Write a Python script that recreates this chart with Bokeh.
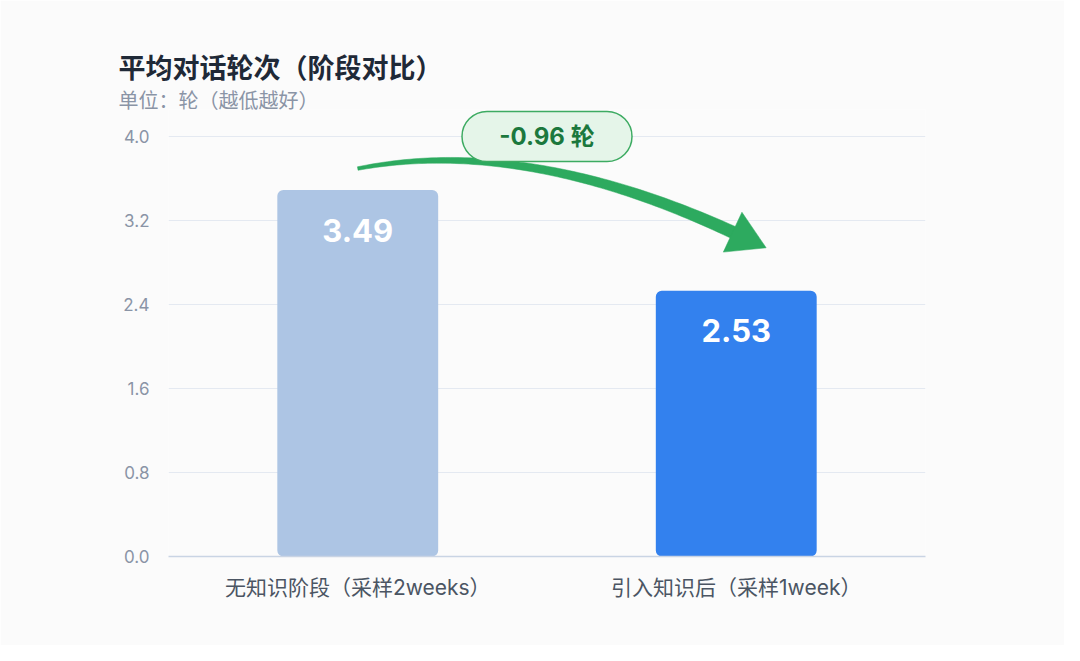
import numpy as np
from bokeh.plotting import figure
from bokeh.models import Range1d, FactorRange, FixedTicker, Title, NumeralTickFormatter
from bokeh.core.properties import value
from bokeh.embed import file_html
from bokeh.resources import INLINE

# ---- data ----
categories = ["无知识阶段（采样2weeks）", "引入知识后（采样1week）"]
values = [3.49, 2.53]
bar_colors = ["#adc5e4", "#3381ee"]
y_ticks = [0.0, 0.8, 1.6, 2.4, 3.2, 4.0]
title_text = "平均对话轮次（阶段对比）"
subtitle_text = "单位：轮（越低越好）"
unit = "轮"

delta = round(values[1] - values[0], 2)
delta_text = f"{delta:.2f} {unit}"

# ---- layout constants ----
BG = "#fbfbfb"
FRAME_W = 757
PX_PER_Y = 105
FRAME_H = 447
Y_END = FRAME_H / PX_PER_Y
PX_PER_X = FRAME_W / len(categories)
CJK = "Noto Sans CJK SC"
LAT = "Inter"
MIX = "Inter, 'Noto Sans CJK SC'"

p = figure(
    title=None,
    x_range=FactorRange(*categories),
    y_range=Range1d(0, Y_END),
    frame_width=FRAME_W, frame_height=FRAME_H,
    min_border_left=168, min_border_right=139,
    min_border_top=109, min_border_bottom=89,
    output_backend="svg", toolbar_location=None,
    background_fill_color=BG, border_fill_color=BG,
)
p.outline_line_color = None

# axes
p.xaxis.axis_line_color = "#c9d4e4"
p.xaxis.axis_line_width = 1.5
p.xaxis.major_tick_line_color = None
p.xaxis.minor_tick_line_color = None
p.xaxis.major_label_text_font = MIX
p.xaxis.major_label_text_font_size = "21px"
p.xaxis.major_label_text_color = "#4b5563"
p.xaxis.major_label_standoff = 12

p.yaxis.ticker = FixedTicker(ticks=y_ticks)
p.yaxis.formatter = NumeralTickFormatter(format="0.0")
p.yaxis.axis_line_color = None
p.yaxis.major_tick_line_color = None
p.yaxis.minor_tick_line_color = None
p.yaxis.major_label_text_font = LAT
p.yaxis.major_label_text_font_size = "17px"
p.yaxis.major_label_text_color = "#8a94a6"
p.yaxis.major_label_standoff = 13

p.xgrid.grid_line_color = None
p.ygrid.grid_line_color = "#e4e9f1"
p.ygrid.grid_line_width = 1

# bars
p.vbar(x=categories, top=values, width=0.425, fill_color=bar_colors,
       line_color=None, border_radius=6)

# value labels
p.text(x=categories, y=values, text=[f"{v:.2f}" for v in values],
       y_offset=40, text_align="center", text_baseline="middle",
       text_font=value(LAT), text_font_style="bold", text_font_size="31px",
       text_color="white")

# ---- curved arrow (computed in pixel-like space, anchored to bar values) ----
x0c, x1c = 0.5, 1.5
P0 = np.array([x0c * PX_PER_X, values[0] * PX_PER_Y + 21.5])
P2 = np.array([x1c * PX_PER_X, values[1] * PX_PER_Y + 57.0])
d = np.array([30.0, -14.0])
P1 = P2 - 7.0 * d
s = np.linspace(0, 1, 80)[:, None]
B = (1 - s) ** 2 * P0 + 2 * s * (1 - s) * P1 + s ** 2 * P2
T = 2 * (1 - s) * (P1 - P0) + 2 * s * (P2 - P1)
T = T / np.linalg.norm(T, axis=1, keepdims=True)
N = np.column_stack([-T[:, 1], T[:, 0]])
w = (3.5 + 9.0 * s[:, 0]) / 2
left = B + N * w[:, None]
right = B - N * w[:, None]
shaft = np.vstack([left, right[::-1]])
p.patch(shaft[:, 0] / PX_PER_X, shaft[:, 1] / PX_PER_Y,
        fill_color="#2daa5f", line_color="#2daa5f", line_width=0.5)
dn = d / np.linalg.norm(d)
nn = np.array([-dn[1], dn[0]])
base = P2 - dn * 4
tip = P2 + dn * 33
head = np.array([base + nn * 22, tip, base - nn * 22])
p.patch(head[:, 0] / PX_PER_X, head[:, 1] / PX_PER_Y,
        fill_color="#2daa5f", line_color="#2daa5f", line_width=0.5)

# pill with delta
mid_x = (x0c + x1c) / 2
p.rect(x=[mid_x], y=[y_ticks[-1]], width=170, height=50,
       width_units="screen", height_units="screen",
       fill_color="#e5f5e9", line_color="#3dab62", line_width=1.5,
       border_radius=25)
p.text(x=[mid_x], y=[y_ticks[-1]], text=[delta_text],
       text_align="center", text_baseline="middle",
       text_font=value(MIX), text_font_style="bold",
       text_font_size="24px", text_color="#1b783d")

# title & subtitle (subtitle added first -> closest to the frame)
p.add_layout(Title(text=subtitle_text, align="left", offset=-50, standoff=-8,
                   text_font=CJK, text_font_style="normal",
                   text_font_size="20px", text_color="#8a94a6"), "above")
p.add_layout(Title(text=title_text, align="left", offset=-50, standoff=1,
                   text_font=CJK, text_font_style="bold",
                   text_font_size="27px", text_color="#1f2937"), "above")

open("out.html", "w").write(file_html(p, INLINE))
